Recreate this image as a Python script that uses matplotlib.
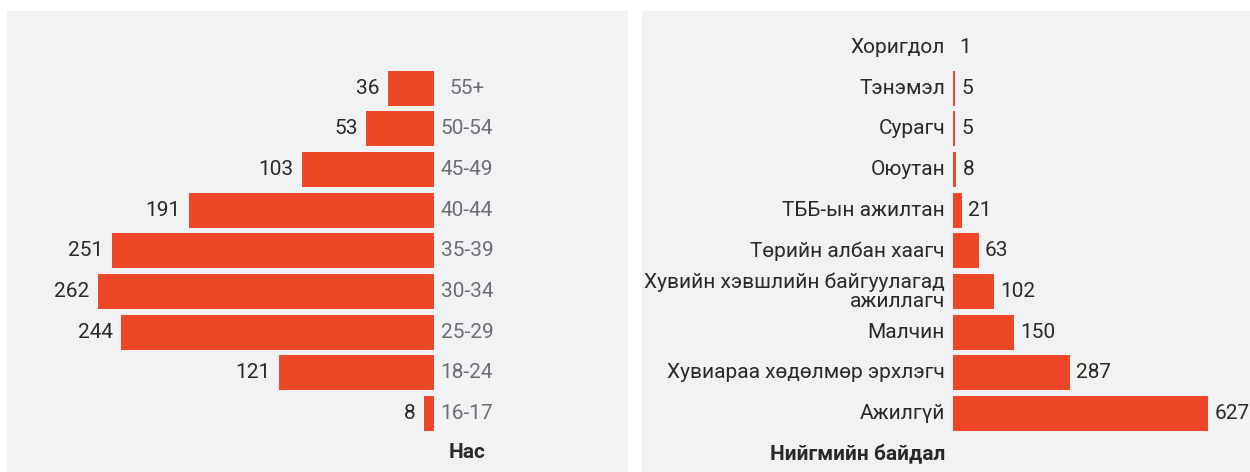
import matplotlib
matplotlib.use("Agg")
import matplotlib.pyplot as plt
from matplotlib.patches import Rectangle
from matplotlib.transforms import blended_transform_factory

# ---- data ----
age_groups = ["16-17", "18-24", "25-29", "30-34", "35-39", "40-44", "45-49", "50-54", "55+"]
age_counts = [8, 121, 244, 262, 251, 191, 103, 53, 36]

status_labels = ["Ажилгүй", "Хувиараа хөдөлмөр эрхлэгч", "Малчин",
                 "Хувийн хэвшлийн байгуулагад\nажиллагч", "Төрийн албан хаагч",
                 "ТББ-ын ажилтан", "Оюутан", "Сурагч", "Тэнэмэл", "Хоригдол"]
status_counts = [627, 287, 150, 102, 63, 21, 8, 5, 5, 1]

left_title = "Нас"
right_title = "Нийгмийн байдал"

# ---- style ----
BAR = "#ee4727"
PANEL = "#f1f2f4"
DARK = "#2b2829"
GREY = "#6d6e71"
FONT = ["Roboto", "DejaVu Sans"]
FS = 15
LW = "normal"
plt.rcParams["font.family"] = FONT

W, H = 1250, 472
fig = plt.figure(figsize=(W / 100, H / 100), dpi=100)
fig.patch.set_facecolor("white")

def fx(px):
    return px / W

def fy(py):
    return 1 - py / H

# panel backgrounds
fig.patches.append(Rectangle((fx(7), 0), fx(628) - fx(7), fy(11), transform=fig.transFigure,
                             facecolor=PANEL, edgecolor="none", zorder=-10))
fig.patches.append(Rectangle((fx(642), 0), 1 - fx(642), fy(11), transform=fig.transFigure,
                             facecolor=PANEL, edgecolor="none", zorder=-10))

ax_bottom = fy(433.8)
ax_height = fy(27.2) - ax_bottom

# ---- left: age ----
axL = fig.add_axes([fx(30), ax_bottom, fx(434) - fx(30), ax_height])
axL.set_facecolor("none")
yL = list(range(len(age_groups)))
axL.barh(yL, age_counts, height=0.86, color=BAR)
axL.set_xlim(315, 0)
axL.set_ylim(-0.5, 9.5)
axL.axis("off")
tL = blended_transform_factory(fig.transFigure, axL.transData)
for y, v, g in zip(yL, age_counts, age_groups):
    axL.annotate(str(v), xy=(v, y), xytext=(-6, 0), textcoords="offset points",
                 ha="right", va="center", fontsize=FS, color=DARK, fontweight=LW)
    axL.text(fx(467), y, g, transform=tL, ha="center", va="center",
             fontsize=FS, color=GREY, fontweight=LW)
fig.text(fx(467), fy(453), left_title, ha="center", va="center",
         fontsize=FS, fontweight="bold", color=DARK)

# ---- right: social status ----
axR = fig.add_axes([fx(953), ax_bottom, 1 - fx(953), ax_height])
axR.set_facecolor("none")
yR = list(range(len(status_labels)))
axR.barh(yR, status_counts, height=0.86, color=BAR)
axR.set_xlim(0, 730)
axR.set_ylim(-0.5, 9.5)
axR.axis("off")
tR = blended_transform_factory(fig.transFigure, axR.transData)
for y, v, lab in zip(yR, status_counts, status_labels):
    axR.annotate(str(v), xy=(v, y), xytext=(4.5, 0), textcoords="offset points",
                 ha="left", va="center", fontsize=FS, color=DARK, fontweight=LW,
                 annotation_clip=False)
    axR.text(fx(945), y, lab, transform=tR, ha="right", va="center",
             multialignment="right", linespacing=1.0, fontsize=FS, color=DARK,
             fontweight=LW)
fig.text(fx(945), fy(453), right_title, ha="right", va="center",
         fontsize=FS, fontweight="bold", color=DARK)

fig.savefig("out.png", dpi=100, facecolor="white")
